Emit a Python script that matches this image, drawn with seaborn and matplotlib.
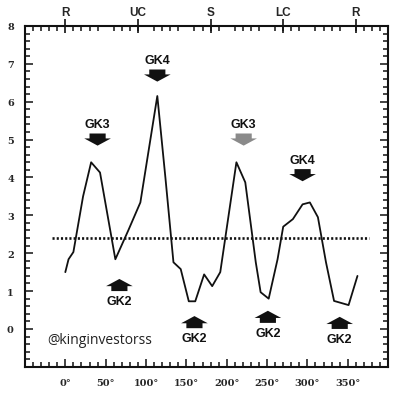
import matplotlib
matplotlib.use("Agg")
import matplotlib.pyplot as plt
import seaborn as sns
import pandas as pd
from matplotlib.ticker import MultipleLocator, FixedLocator

# signal trace
angle = [0, 4, 10, 22, 32, 43, 62, 78, 93, 114, 124, 134, 143, 153, 161,
         172, 182, 192, 212, 223, 236, 242, 252, 263, 270, 282, 294, 303,
         313, 323, 333, 351, 362]
signal = [1.5, 1.84, 2.03, 3.5, 4.4, 4.13, 1.84, 2.6, 3.34, 6.15, 4.0, 1.76,
          1.58, 0.73, 0.73, 1.44, 1.13, 1.5, 4.4, 3.87, 1.76, 0.97, 0.8,
          1.84, 2.7, 2.9, 3.29, 3.34, 2.95, 1.76, 0.74, 0.63, 1.4]

mean_level = 2.4
mean_span = [-16, 376]

top_pos = [0, 90, 180, 270, 360]
top_labels = ["R", "UC", "S", "LC", "R"]

# down arrows (label, angle, tip level, shaded?)
down_labels = ["GK3", "GK4", "GK3", "GK4"]
down_angle = [40, 114, 221, 294]
down_tip = [4.84, 6.53, 4.84, 3.9]
down_shade = ["#111111", "#111111", "#8a8a8a", "#111111"]

# up arrows
up_labels = ["GK2", "GK2", "GK2", "GK2"]
up_angle = [67, 160, 251, 340]
up_tip = [1.32, 0.34, 0.48, 0.32]

df = pd.DataFrame({"angle": angle, "signal": signal})

sns.set_theme(style="ticks")
plt.rcParams["font.family"] = ["Liberation Sans", "DejaVu Sans"]

fig = plt.figure(figsize=(4.16, 4.02), dpi=100)
ax = fig.add_axes([0.06, 0.085, 0.873, 0.848])

sns.lineplot(data=df, x="angle", y="signal", ax=ax, color="#111111",
             linewidth=1.3, estimator=None)
ax.plot(mean_span, [mean_level, mean_level], linestyle=(0, (0.8, 0.8)),
        color="#111111", linewidth=1.9)

ax.set_xlim(-50, 400)
ax.set_ylim(-1, 8)
ax.set_xlabel("")
ax.set_ylabel("")

ax.xaxis.set_major_locator(FixedLocator(list(range(-50, 401, 50))))
ax.xaxis.set_minor_locator(MultipleLocator(10))
ax.yaxis.set_major_locator(FixedLocator(list(range(-1, 9))))
ax.yaxis.set_minor_locator(MultipleLocator(0.2))

xt = list(range(-50, 401, 50))
ax.set_xticklabels([f"{v}\u00b0" if 0 <= v <= 350 else "" for v in xt],
                   fontsize=7, fontweight="bold", family="DejaVu Serif")
yt = list(range(-1, 9))
ax.set_yticklabels([str(v) if v >= 0 else "" for v in yt],
                   fontsize=7, fontweight="bold", family="DejaVu Serif")

ax.tick_params(which="both", direction="in", top=True, right=True,
               color="#111111", width=1.1)
ax.tick_params(which="major", length=6, pad=8)
ax.tick_params(which="minor", length=3.5)
ax.tick_params(axis="x", which="major", top=False)

for sp in ax.spines.values():
    sp.set_linewidth(1.5)
    sp.set_color("#111111")

sec = ax.secondary_xaxis("top")
sec.set_xticks(top_pos)
sec.set_xticklabels(top_labels, fontsize=8.5, fontweight="bold")
sec.tick_params(direction="inout", length=10, width=1.2, pad=1, color="#111111")
sec.spines["top"].set_visible(False)

aw = 33      # head width in degrees
sw = 20      # stem width
alen = 0.32  # arrow length
hlen = 0.19  # head length

for lab, xa, tip, col in zip(down_labels, down_angle, down_tip, down_shade):
    ax.arrow(xa, tip + alen, 0, -alen, width=sw, head_width=aw,
             head_length=hlen, length_includes_head=True, color=col, lw=0)
    ax.text(xa, tip + alen + 0.08, lab, ha="center", va="bottom",
            fontsize=9, fontweight="bold", color="#111111")

for lab, xa, tip in zip(up_labels, up_angle, up_tip):
    ax.arrow(xa, tip - alen, 0, alen, width=sw, head_width=aw,
             head_length=hlen, length_includes_head=True, color="#111111", lw=0)
    ax.text(xa, tip - alen - 0.1, lab, ha="center", va="top",
            fontsize=9, fontweight="bold", color="#111111")

ax.text(-22, -0.28, "@kinginvestorss", fontsize=10, color="#222222",
        ha="left", va="center", family=["Open Sans", "DejaVu Sans"])

fig.savefig("out.png", dpi=100)
